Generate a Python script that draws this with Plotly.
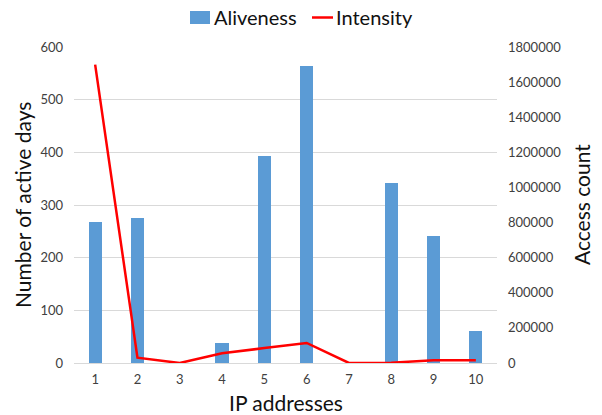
import plotly.graph_objects as go

# IP address index on the x axis
ip_addresses = [1, 2, 3, 4, 5, 6, 7, 8, 9, 10]
# Number of active days per IP (bars, left axis)
aliveness = [268, 275, 0, 38, 393, 564, 0, 342, 242, 60]
# Access count per IP (line, right axis)
intensity = [1700000, 30000, 0, 55000, 85000, 114000, 0, 2000, 15000, 15000]

left_ticks = [0, 100, 200, 300, 400, 500, 600]
right_ticks = [0, 200000, 400000, 600000, 800000, 1000000, 1200000, 1400000, 1600000, 1800000]

FONT = "Lato"
W, H = 602, 415
ML, MR, MT, MB = 74, 105, 47, 52
PW, PH = W - ML - MR, H - MT - MB


def px_x(px):
    # pixel column -> paper x
    return (px - ML) / PW


def px_y(py):
    # pixel row -> paper y
    return (H - MB - py) / PH


BAR_COLOR = "#5b9bd5"
LINE_COLOR = "#ff0000"

fig = go.Figure()
fig.add_trace(go.Bar(
    x=ip_addresses, y=aliveness, name="Aliveness",
    marker=dict(color=BAR_COLOR, line=dict(width=0)), width=0.31,
))
fig.add_trace(go.Scatter(
    x=ip_addresses, y=intensity, name="Intensity", yaxis="y2",
    mode="lines", line=dict(color=LINE_COLOR, width=2.5),
))

# Legend drawn as a swatch, a line sample and two labels above the plot
legend_shapes = [
    dict(type="rect", xref="paper", yref="paper",
         x0=px_x(190), x1=px_x(210), y0=px_y(24), y1=px_y(11),
         fillcolor=BAR_COLOR, line=dict(width=0)),
    dict(type="line", xref="paper", yref="paper",
         x0=px_x(312), x1=px_x(333), y0=px_y(17.5), y1=px_y(17.5),
         line=dict(color=LINE_COLOR, width=2.5)),
]
legend_labels = [
    dict(text="Aliveness", xref="paper", yref="paper", x=px_x(212), y=px_y(17),
         xanchor="left", yanchor="middle", showarrow=False,
         font=dict(size=20, color="#111")),
    dict(text="Intensity", xref="paper", yref="paper", x=px_x(334), y=px_y(17),
         xanchor="left", yanchor="middle", showarrow=False,
         font=dict(size=20, color="#111")),
]

fig.update_layout(
    width=W, height=H,
    margin=dict(l=ML, r=MR, t=MT, b=MB, autoexpand=False),
    paper_bgcolor="white", plot_bgcolor="white",
    font=dict(family=FONT, color="#404040", size=13),
    showlegend=False,
    xaxis=dict(
        type="linear", range=[0.5, 10.5], tickvals=ip_addresses,
        showgrid=False, showline=True, linecolor="#d9d9d9", linewidth=1,
        ticks="", zeroline=False, ticklabelstandoff=4,
    ),
    yaxis=dict(
        range=[0, 600], tickvals=left_ticks, showgrid=True, gridcolor="#d9d9d9",
        gridwidth=1, zeroline=False, showline=False, ticks="",
        ticklabelstandoff=10,
    ),
    yaxis2=dict(
        range=[0, 1800000], tickvals=right_ticks, overlaying="y", side="right",
        showgrid=False, zeroline=False, showline=False, ticks="",
        tickformat="d", ticklabelstandoff=10,
    ),
    bargap=0,
    shapes=legend_shapes,
    annotations=legend_labels + [
        dict(text="Number of active days", xref="paper", yref="paper", x=0, y=0.5,
             xshift=-52, xanchor="center", yanchor="middle", textangle=-90,
             showarrow=False, font=dict(size=21, color="#111")),
        dict(text="Access count", xref="paper", yref="paper", x=1, y=0.5,
             xshift=84, xanchor="center", yanchor="middle", textangle=-90,
             showarrow=False, font=dict(size=21, color="#111")),
        dict(text="IP addresses", xref="paper", yref="paper", x=0.5, y=0,
             yshift=-39, xanchor="center", yanchor="middle",
             showarrow=False, font=dict(size=21, color="#111")),
    ],
)

fig.write_html("out.html")
